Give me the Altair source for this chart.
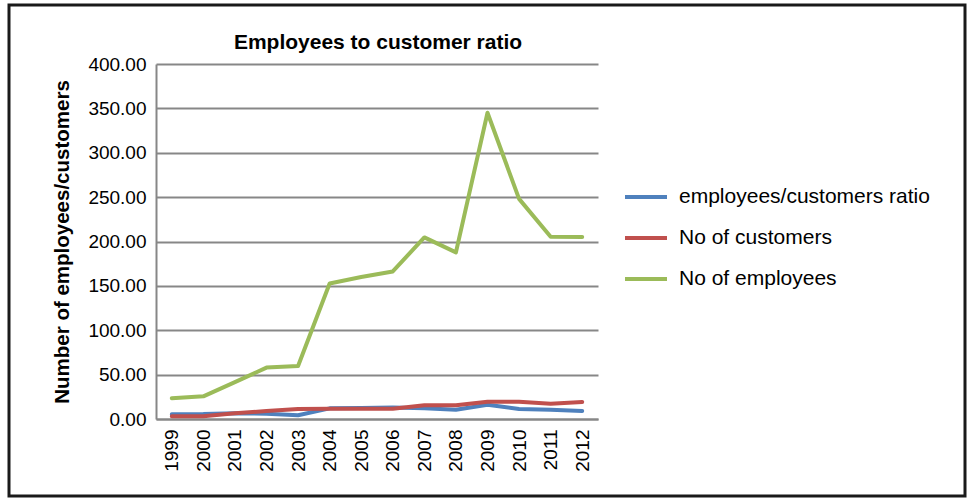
import altair as alt
import pandas as pd

years = [str(y) for y in range(1999, 2013)]
ratio = [5.3, 5.5, 6.5, 6.0, 4.3, 12.0, 12.5, 13.0, 12.0, 10.5, 16.0, 11.3, 10.5, 9.0]
customers = [3.0, 3.2, 6.5, 9.0, 11.3, 11.5, 11.5, 11.5, 15.4, 15.5, 19.5, 19.5, 17.3, 19.2]
employees = [23.5, 25.5, 41.5, 57.9, 59.8, 152.7, 160.0, 166.3, 204.6, 187.7, 345.0, 248.0, 205.4, 205.0]

series_names = ["employees/customers ratio", "No of customers", "No of employees"]
series_colors = ["#4F81BD", "#C0504D", "#9BBB59"]
title_text = "Employees to customer ratio"

rows = []
for name, vals in zip(series_names, [ratio, customers, employees]):
    for i, (yr, v) in enumerate(zip(years, vals)):
        rows.append({"Year": yr, "Value": v, "Series": name, "k": series_names.index(name)})
df = pd.DataFrame(rows)

FONT = "Liberation Sans"

lines = alt.Chart(df).mark_line(strokeWidth=4, strokeCap="round", strokeJoin="round").encode(
    x=alt.X("Year:O", sort=years, scale=alt.Scale(type="point", padding=0.5),
            axis=alt.Axis(title=None, labelAngle=-90, labelFontSize=19, labelFont=FONT,
                          labelColor="black", ticks=False, domainColor="#878787",
                          domainWidth=2, labelPadding=10, grid=False)),
    y=alt.Y("Value:Q", scale=alt.Scale(domain=[0, 400], nice=False),
            axis=alt.Axis(title="Number of employees/customers", values=list(range(0, 401, 50)),
                          format=".2f", labelFontSize=19, labelFont=FONT, labelColor="black",
                          ticks=False, labelPadding=10, domainColor="#878787", domainWidth=2,
                          grid=True, gridColor="#878787", gridWidth=2,
                          titleFont=FONT, titleFontSize=20.5, titleFontWeight="bold",
                          titleColor="black", titleX=-94, titleBaseline="middle")),
    color=alt.Color("Series:N", scale=alt.Scale(domain=series_names, range=series_colors),
                    legend=alt.Legend(title=None, orient="none", legendX=467, legendY=110,
                                      symbolType="stroke", symbolSize=1764, symbolStrokeWidth=4,
                                      labelFontSize=21, labelFont=FONT, labelColor="black",
                                      labelOffset=10, rowPadding=8, labelLimit=400)),
    order=alt.Order("k:Q"),
    detail="Series:N",
)

frame = alt.Chart(pd.DataFrame({"a": [0]})).mark_rect(
    fill=None, stroke="#1a1a1a", strokeWidth=3, clip=False
).encode(x=alt.value(-147), x2=alt.value(809), y=alt.value(-59), y2=alt.value(432))

title = alt.Chart(pd.DataFrame({"t": [title_text]})).mark_text(
    font=FONT, fontSize=21, fontWeight="bold", color="black",
    align="center", baseline="middle", clip=False
).encode(text="t:N", x=alt.value(222), y=alt.value(-21))

chart = alt.layer(lines, frame, title).properties(
    width=442, height=355,
    autosize=alt.AutoSizeParams(type="none"),
    padding={"left": 156, "top": 64, "right": 370, "bottom": 79},
    background="white",
).configure_view(stroke=None)

chart.save("out.html", embed_options={"renderer": "svg", "actions": False})
